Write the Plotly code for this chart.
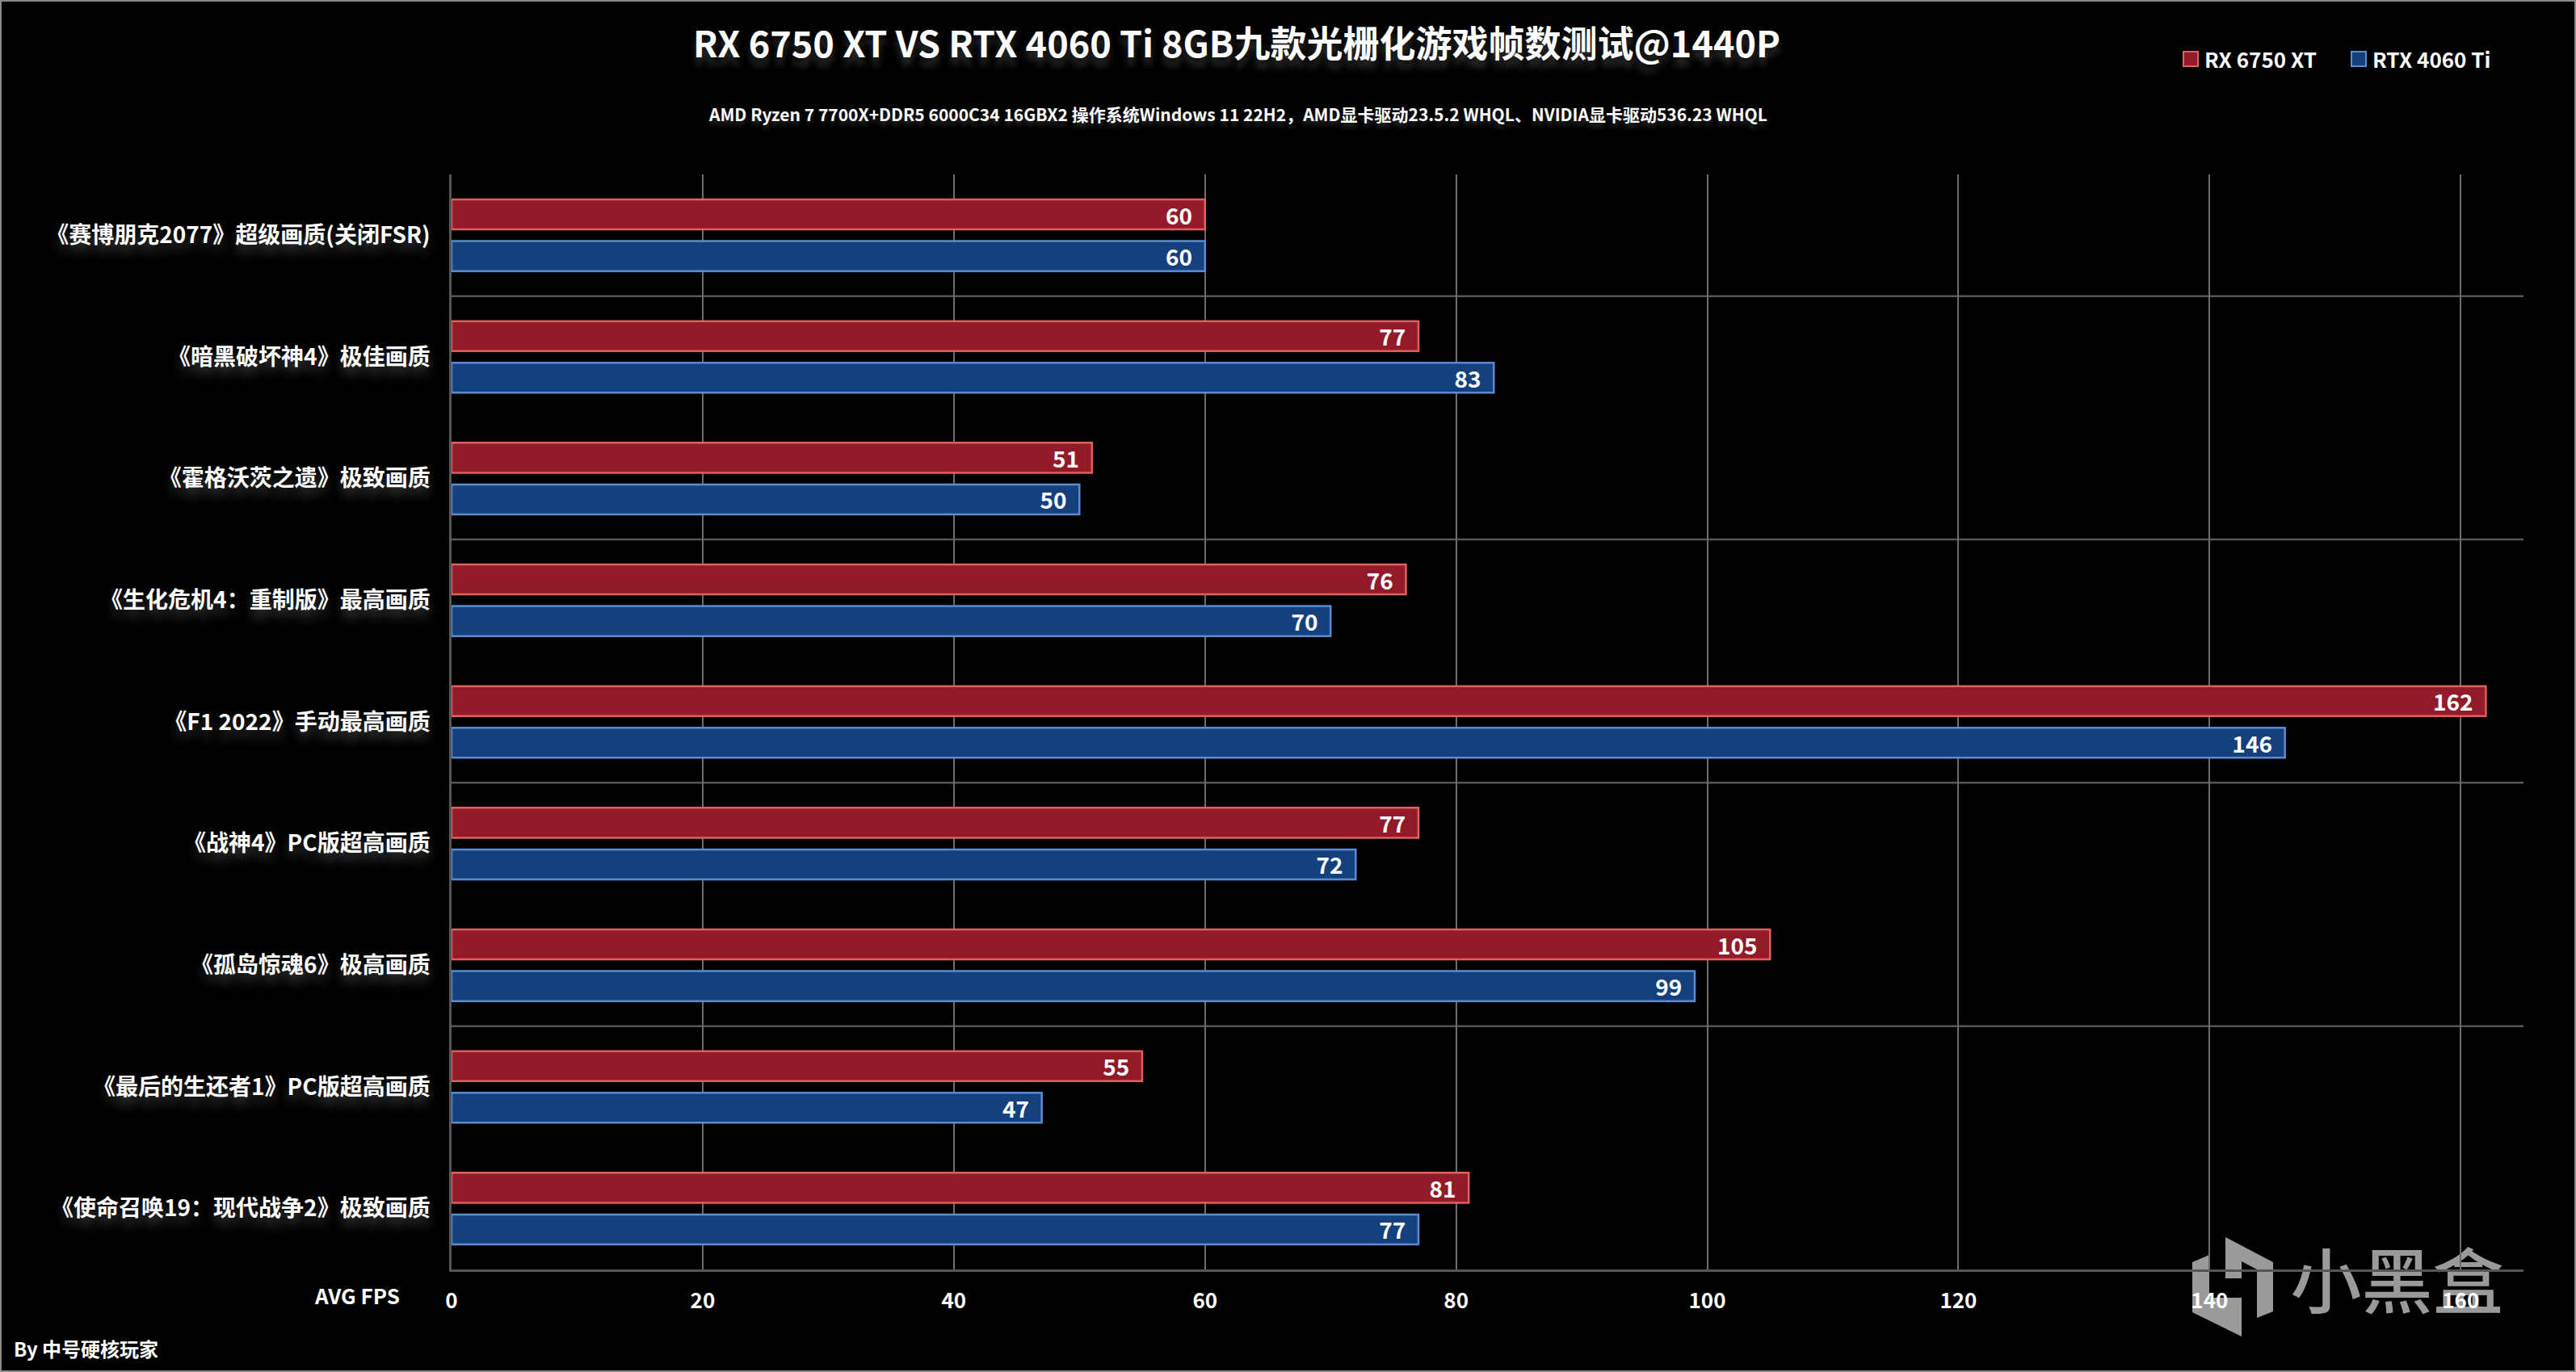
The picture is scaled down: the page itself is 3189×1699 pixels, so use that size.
import plotly.graph_objects as go

# ---------------- data ----------------
games = [
    "《赛博朋克2077》超级画质(关闭FSR)",
    "《暗黑破坏神4》极佳画质",
    "《霍格沃茨之遗》极致画质",
    "《生化危机4：重制版》最高画质",
    "《F1 2022》手动最高画质",
    "《战神4》PC版超高画质",
    "《孤岛惊魂6》极高画质",
    "《最后的生还者1》PC版超高画质",
    "《使命召唤19：现代战争2》极致画质",
]
rx6750xt = [60, 77, 51, 76, 162, 77, 105, 55, 81]
rtx4060ti = [60, 83, 50, 70, 146, 72, 99, 47, 77]
series_names = ["RX 6750 XT", "RTX 4060 Ti"]
x_ticks = [0, 20, 40, 60, 80, 100, 120, 140, 160]

title_text = "RX 6750 XT VS RTX 4060 Ti 8GB九款光栅化游戏帧数测试@1440P"
subtitle_text = ("AMD Ryzen 7 7700X+DDR5 6000C34 16GBX2 操作系统Windows 11 22H2，"
                 "AMD显卡驱动23.5.2 WHQL、NVIDIA显卡驱动536.23 WHQL")
axis_note = "AVG FPS"
author = "By 中号硬核玩家"
watermark = "小黑盒"

# ---------------- style ----------------
W, H = 3189, 1699
L, R, T, B = 559, 3124, 216, 1572
FONT = "Noto Sans CJK SC"
RED_FILL, RED_LINE = "#921b29", "#e0605e"
BLUE_FILL, BLUE_LINE = "#14407e", "#5b8bd0"
GRID = "#6c6c6c"
SEP = "#565656"


def px_x(x):
    return (x - L) / (R - L)


def px_y(y):
    return (B - y) / (B - T)


fig = go.Figure()
for name, vals, fill, line in [
    (series_names[0], rx6750xt, RED_FILL, RED_LINE),
    (series_names[1], rtx4060ti, BLUE_FILL, BLUE_LINE),
]:
    fig.add_trace(go.Bar(
        name=name, y=games, x=vals, orientation="h",
        marker=dict(color=fill, line=dict(color=line, width=2.5)),
        text=[f"{v}\u00a0\u00a0" for v in vals],
        textposition="inside", insidetextanchor="end", constraintext="none",
        textfont=dict(family=FONT, size=28, color="white", weight="bold"),
        textangle=0, cliponaxis=False, showlegend=False,
    ))

shapes = []
# separators between every second category
for k in [0.5, 2.5, 4.5, 6.5]:
    shapes.append(dict(type="line", xref="paper", yref="y", x0=0, x1=1, y0=k, y1=k,
                       line=dict(color=SEP, width=2.5), layer="below"))
# image border
shapes.append(dict(type="rect", xref="paper", yref="paper",
                   x0=px_x(1), x1=px_x(W - 1), y0=px_y(H - 1), y1=px_y(1),
                   line=dict(color="#8a8a8a", width=2), fillcolor="rgba(0,0,0,0)", layer="below"))
# legend squares
for x0, fill, line in [(2703, RED_FILL, RED_LINE), (2911, BLUE_FILL, BLUE_LINE)]:
    shapes.append(dict(type="rect", xref="paper", yref="paper",
                       x0=px_x(x0), x1=px_x(x0 + 18), y0=px_y(82), y1=px_y(64),
                       fillcolor=fill, line=dict(color=line, width=2)))


# watermark logo
def poly(pts):
    return "M " + " L ".join(f"{px_x(x):.5f},{px_y(y):.5f}" for x, y in pts) + " Z"


pieceA = [(2714, 1563), (2735, 1554), (2735, 1607), (2775, 1607), (2775, 1655), (2714, 1625)]
pieceB = [(2755, 1532), (2814, 1563), (2814, 1624), (2794, 1632), (2794, 1572), (2775, 1562),
          (2775, 1583), (2755, 1583)]
for pts in (pieceA, pieceB):
    shapes.append(dict(type="path", xref="paper", yref="paper", path=poly(pts),
                       fillcolor="#9a9a9a", line=dict(width=0), layer="below"))
shapes.append(dict(type="rect", xref="paper", yref="paper",
                   x0=px_x(2830), x1=px_x(3105), y0=px_y(1640), y1=px_y(1548),
                   line=dict(width=0), fillcolor="rgba(0,0,0,0)", layer="below",
                   label=dict(text=watermark, textposition="middle center",
                              font=dict(family=FONT, size=88, color="#9a9a9a", weight=500))))

annotations = [
    dict(text=subtitle_text, xref="paper", yref="paper", x=px_x(1532), y=px_y(141),
         xanchor="center", yanchor="middle", showarrow=False,
         font=dict(family=FONT, size=21, color="white", weight="bold",
                   shadow="0px 6px 5px rgba(255,255,255,0.15)")),
    dict(text=series_names[0], xref="paper", yref="paper", x=px_x(2727), y=px_y(73),
         xanchor="left", yanchor="middle", showarrow=False,
         font=dict(family=FONT, size=26, color="white", weight="bold")),
    dict(text=series_names[1], xref="paper", yref="paper", x=px_x(2935), y=px_y(73),
         xanchor="left", yanchor="middle", showarrow=False,
         font=dict(family=FONT, size=26, color="white", weight="bold")),
    dict(text=axis_note, xref="paper", yref="paper", x=px_x(497), y=px_y(1604),
         xanchor="right", yanchor="middle", showarrow=False,
         font=dict(family=FONT, size=26, color="white", weight="bold")),
    dict(text=author, xref="paper", yref="paper", x=px_x(15), y=px_y(1669),
         xanchor="left", yanchor="middle", showarrow=False,
         font=dict(family=FONT, size=24, color="white", weight="bold")),
]

fig.update_layout(
    width=W, height=H,
    paper_bgcolor="black", plot_bgcolor="black",
    margin=dict(l=L, r=W - R, t=T, b=H - B, pad=0),
    barmode="group", bargap=0.316, bargroupgap=0.28,
    title=dict(text=title_text, x=1531 / W, y=1 - 55 / H, xref="container", yref="container",
               xanchor="center", yanchor="middle",
               font=dict(family=FONT, size=45, color="white", weight="bold",
                         shadow="0px 10px 8px rgba(255,255,255,0.18)")),
    xaxis=dict(range=[0, 165], tickvals=x_ticks, showgrid=True, gridcolor=GRID, gridwidth=1.5,
               zeroline=False, showline=True, linecolor=SEP, linewidth=2.5, ticks="",
               ticklabelstandoff=14,
               tickfont=dict(family=FONT, size=26, color="white", weight="bold")),
    yaxis=dict(autorange="reversed", showgrid=False, zeroline=False, showline=True,
               linecolor=SEP, linewidth=2.5, ticks="", ticklabelstandoff=18,
               tickfont=dict(family=FONT, size=28, color="white", weight="bold",
                             shadow="0px 10px 14px rgba(255,255,255,0.22)")),
    shapes=shapes, annotations=annotations, showlegend=False,
)

fig.write_html("out.html", config={"displayModeBar": False},
               post_script="document.body.style.margin='0';document.body.style.background='black';")
